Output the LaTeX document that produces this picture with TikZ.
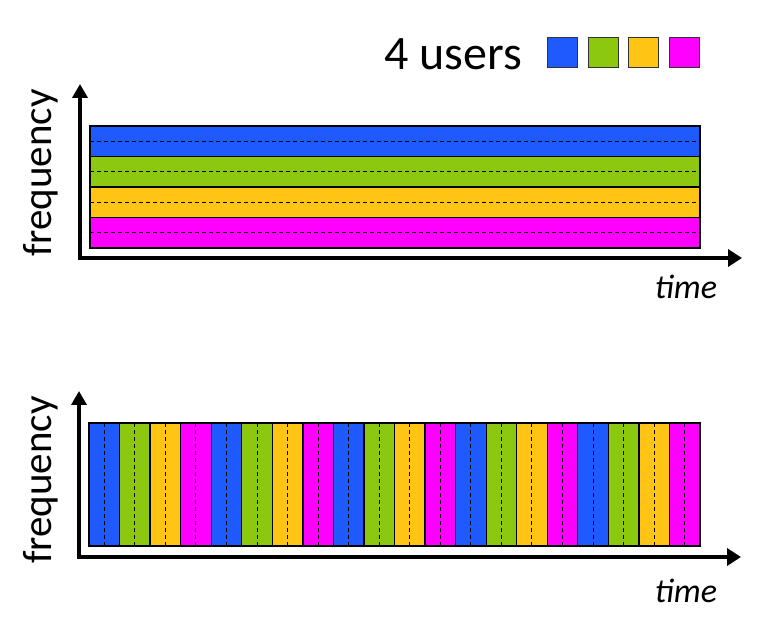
\documentclass[tikz,border=0pt]{standalone}
\usepackage{fontspec}
\setmainfont{Carlito}
\usetikzlibrary{arrows.meta}
\definecolor{col0}{RGB}{31,90,255}
\definecolor{col1}{RGB}{140,200,15}
\definecolor{col2}{RGB}{255,196,20}
\definecolor{col3}{RGB}{255,0,255}
\begin{document}
\begin{tikzpicture}[x=1pt,y=-1pt,
  border/.style={draw=black,line width=1.3pt},
  midline/.style={dash pattern=on 4pt off 3pt,line width=1pt},
  axis/.style={line width=4pt,line join=miter,{Triangle[length=14pt,width=15pt]}-{Triangle[length=14pt,width=17pt]}},
  legbox/.style={draw=black!80,line width=1.2pt,minimum size=30pt,inner sep=0pt},
  freqlabel/.style={rotate=90,font=\fontsize{41}{41}\selectfont,inner sep=0pt},
  timelabel/.style={font=\fontsize{34}{34}\selectfont\itshape,inner sep=0pt}]
\useasboundingbox (0,0) rectangle (764,620);

% legend
\node[font=\fontsize{48}{48}\selectfont,inner sep=0pt,anchor=east] (users) at (522,54) {4 users};
\node[legbox,fill=col0] (leg0) at (562.5,52.5) {};
\node[legbox,fill=col1] (leg1) at (603.5,52.5) {};
\node[legbox,fill=col2] (leg2) at (643.5,52.5) {};
\node[legbox,fill=col3] (leg3) at (684.5,52.5) {};

% top chart: FDM
\foreach \i in {0,...,3}{
  \fill[col\i] (90,{126+30.5*\i}) rectangle (700,{156.5+30.5*\i});
  \draw[midline] (90,{141.25+30.5*\i}) -- (700,{141.25+30.5*\i});
}
\foreach \i in {1,2,3}{
  \draw[line width=1.3pt] (90,{126+30.5*\i}) -- (700,{126+30.5*\i});
}
\draw[border] (90,126) rectangle (700,248);
\coordinate (a1top) at (80,84);
\coordinate (a1org) at (80,258);
\coordinate (a1end) at (742,258);
\draw[axis] (a1top) -- (a1org) -- (a1end);
\node[freqlabel] (freq1) at (41,173) {frequency};
\node[timelabel] (time1) at (686,287) {time};

% bottom chart: TDM
\foreach \i in {0,...,19}{
  \pgfmathtruncatemacro\k{mod(\i,4)}
  \fill[col\k] ({89+30.55*\i},423) rectangle ({89+30.55*(\i+1)},546);
  \draw[midline] ({89+30.55*(\i+0.5)},423) -- ({89+30.55*(\i+0.5)},546);
}
\foreach \i in {1,...,19}{
  \draw[line width=1.3pt] ({89+30.55*\i},423) -- ({89+30.55*\i},546);
}
\draw[border] (89,423) rectangle (700,546);
\coordinate (a2top) at (79,391);
\coordinate (a2org) at (79,557);
\coordinate (a2end) at (741,557);
\draw[axis] (a2top) -- (a2org) -- (a2end);
\node[freqlabel] (freq2) at (41,480) {frequency};
\node[timelabel] (time2) at (686,591) {time};
\end{tikzpicture}
\end{document}
